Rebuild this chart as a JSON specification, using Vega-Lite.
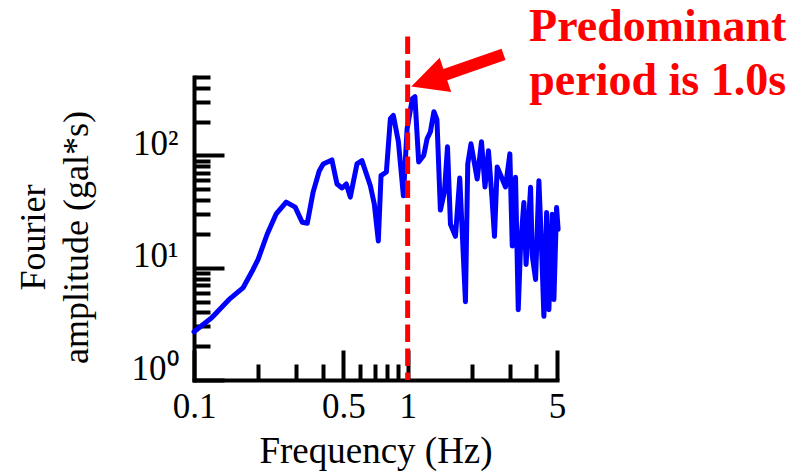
{
  "$schema": "https://vega.github.io/schema/vega-lite/v6.json",
  "width": 363,
  "height": 303,
  "autosize": "none",
  "padding": {"left": 194, "top": 77, "right": 248, "bottom": 94},
  "background": "white",
  "config": {
    "view": {"stroke": null},
    "font": "Liberation Serif",
    "axis": {
      "grid": false,
      "domainColor": "black",
      "domainWidth": 4,
      "domainCap": "square",
      "tickColor": "black",
      "tickWidth": 4,
      "labelColor": "black",
      "titleColor": "black",
      "titleFontWeight": "normal"
    }
  },
  "datasets": {
    "spectrum": [
      {"f": 0.1, "a": 2.69}, {"f": 0.121, "a": 3.59}, {"f": 0.1475, "a": 5.31}, {"f": 0.17, "a": 6.66},
      {"f": 0.189, "a": 9.65}, {"f": 0.1995, "a": 11.87}, {"f": 0.22, "a": 19.87}, {"f": 0.242, "a": 30.0},
      {"f": 0.27, "a": 38.4}, {"f": 0.2975, "a": 34.7}, {"f": 0.321, "a": 25.4}, {"f": 0.339, "a": 24.9},
      {"f": 0.361, "a": 47.2}, {"f": 0.3855, "a": 72.8}, {"f": 0.4025, "a": 84.1}, {"f": 0.442, "a": 91.3},
      {"f": 0.467, "a": 55.7}, {"f": 0.493, "a": 51.3}, {"f": 0.516, "a": 55.7}, {"f": 0.539, "a": 42.6},
      {"f": 0.579, "a": 84.1}, {"f": 0.611, "a": 90.0}, {"f": 0.669, "a": 53.8}, {"f": 0.698, "a": 36.9},
      {"f": 0.729, "a": 17.3}, {"f": 0.7505, "a": 66.1}, {"f": 0.795, "a": 71.3}, {"f": 0.83, "a": 212.7},
      {"f": 0.857, "a": 227.6}, {"f": 0.905, "a": 132.4}, {"f": 0.955, "a": 43.7}, {"f": 0.994, "a": 173.0},
      {"f": 1.052, "a": 321.1}, {"f": 1.081, "a": 334.6}, {"f": 1.126, "a": 87.6}, {"f": 1.189, "a": 99.8},
      {"f": 1.233, "a": 140.8}, {"f": 1.278, "a": 162.7}, {"f": 1.327, "a": 245.6}, {"f": 1.371, "a": 208.3},
      {"f": 1.423, "a": 32.6}, {"f": 1.486, "a": 47.2}, {"f": 1.536, "a": 119.4}, {"f": 1.586, "a": 24.4},
      {"f": 1.674, "a": 19.06}, {"f": 1.753, "a": 63.0}, {"f": 1.864, "a": 4.99}, {"f": 1.911, "a": 84.1},
      {"f": 1.979, "a": 127.0}, {"f": 2.116, "a": 61.7}, {"f": 2.216, "a": 132.4}, {"f": 2.301, "a": 52.4},
      {"f": 2.389, "a": 110.0}, {"f": 2.481, "a": 41.7}, {"f": 2.549, "a": 19.06}, {"f": 2.625, "a": 79.1},
      {"f": 2.771, "a": 61.7}, {"f": 2.871, "a": 52.4}, {"f": 3.008, "a": 103.3}, {"f": 3.087, "a": 15.61},
      {"f": 3.198, "a": 63.9}, {"f": 3.293, "a": 4.23}, {"f": 3.376, "a": 15.61}, {"f": 3.499, "a": 38.2},
      {"f": 3.583, "a": 10.7}, {"f": 3.761, "a": 52.0}, {"f": 3.831, "a": 12.7}, {"f": 3.97, "a": 7.86},
      {"f": 4.114, "a": 59.6}, {"f": 4.236, "a": 14.58}, {"f": 4.342, "a": 3.69}, {"f": 4.471, "a": 31.1},
      {"f": 4.581, "a": 4.23}, {"f": 4.753, "a": 30.0}, {"f": 4.836, "a": 5.2}, {"f": 4.978, "a": 34.4},
      {"f": 5.06, "a": 22.0}
    ],
    "marker": [{"f": 1, "a0": 1150, "a1": 1}],
    "arrow": [{"x1": 1.423, "y1": 505.6, "x2": 2.81, "y2": 795}],
    "head": [{"f": 1.25, "a": 463.6}],
    "note": [{"f": 14.8, "a": 1040, "label": "Predominant\nperiod is 1.0s"}]
  },
  "resolve": {"axis": {"x": "independent", "y": "independent"}},
  "layer": [
    {
      "data": {"name": "marker"},
      "mark": {"type": "rule", "color": "#FF0000", "strokeWidth": 5, "opacity": 0, "clip": false},
      "encoding": {
        "x": {
          "field": "f", "type": "quantitative",
          "scale": {"type": "log", "domain": [0.1, 5], "nice": false},
          "axis": {"orient": "bottom", "values": [0.2, 0.3, 0.4, 0.6, 0.7, 0.8, 0.9, 2, 3, 4], "tickSize": -16, "labels": false, "domain": false, "title": null}
        },
        "y": {
          "field": "a0", "type": "quantitative",
          "scale": {"type": "log", "domain": [1, 500], "nice": false},
          "axis": {"orient": "left", "values": [2, 3, 4, 5, 6, 7, 8, 9, 20, 30, 40, 50, 60, 70, 80, 90, 200, 300, 400, 500], "tickSize": -16, "labels": false, "domain": false, "title": null}
        },
        "y2": {"field": "a1"}
      }
    },
    {
      "data": {"name": "spectrum"},
      "mark": {"type": "line", "color": "#0000FF", "strokeWidth": 5, "strokeJoin": "round", "strokeCap": "round", "clip": false},
      "encoding": {
        "x": {
          "field": "f", "type": "quantitative",
          "scale": {"type": "log", "domain": [0.1, 5], "nice": false},
          "axis": {
            "orient": "bottom", "values": [0.1, 0.5, 1, 5],
            "labelExpr": "datum.value == 0.1 ? '0.1' : datum.value == 0.5 ? '0.5' : datum.value == 1 ? '1' : '5'",
            "tickSize": -30, "labelPadding": 39, "labelFlush": false,
            "labelFont": "Liberation Serif", "labelFontSize": 35,
            "title": "Frequency (Hz)", "titleFont": "Liberation Serif", "titleFontSize": 37,
            "titleY": 82, "titleBaseline": "alphabetic"
          }
        },
        "y": {
          "field": "a", "type": "quantitative",
          "scale": {"type": "log", "domain": [1, 500], "nice": false},
          "axis": {
            "orient": "left", "values": [1, 10, 100],
            "labelExpr": "datum.value == 1 ? '10⁰' : datum.value == 10 ? '10¹' : '10²'",
            "labelFont": "Liberation Serif", "labelFontSize": 35,
            "tickSize": -30, "labelPadding": 46, "labelOffset": -12, "labelFlush": false,
            "title": ["Fourier", "amplitude (gal*s)"],
            "titleFont": "Liberation Serif", "titleFontSize": 36,
            "titleX": -142, "titleY": 160, "titleAngle": 270, "titleBaseline": "bottom", "titleAlign": "center", "titleLineHeight": 43
          }
        }
      }
    },
    {
      "data": {"name": "marker"},
      "mark": {"type": "rule", "color": "#FF0000", "strokeWidth": 5, "strokeDash": [17.5, 6.5], "clip": false},
      "encoding": {
        "x": {"field": "f", "type": "quantitative", "scale": {"type": "log", "domain": [0.1, 5], "nice": false}, "axis": null},
        "y": {"field": "a0", "type": "quantitative", "scale": {"type": "log", "domain": [1, 500], "nice": false}, "axis": null},
        "y2": {"field": "a1"}
      }
    },
    {
      "data": {"name": "arrow"},
      "mark": {"type": "rule", "color": "#FF0000", "strokeWidth": 12, "strokeCap": "butt", "clip": false},
      "encoding": {
        "x": {"field": "x1", "type": "quantitative", "scale": {"type": "log", "domain": [0.1, 5], "nice": false}, "axis": null},
        "y": {"field": "y1", "type": "quantitative", "scale": {"type": "log", "domain": [1, 500], "nice": false}, "axis": null},
        "x2": {"field": "x2"},
        "y2": {"field": "y2"}
      }
    },
    {
      "data": {"name": "head"},
      "mark": {"type": "point", "shape": "M -1 0 L 1 -1 L 1 1 Z", "size": 1296, "angle": -18.7, "filled": true, "color": "#FF0000", "opacity": 1, "strokeWidth": 0, "clip": false},
      "encoding": {
        "x": {"field": "f", "type": "quantitative", "scale": {"type": "log", "domain": [0.1, 5], "nice": false}, "axis": null},
        "y": {"field": "a", "type": "quantitative", "scale": {"type": "log", "domain": [1, 500], "nice": false}, "axis": null}
      }
    },
    {
      "data": {"name": "note"},
      "mark": {"type": "text", "color": "#FF0000", "font": "Liberation Serif", "fontSize": 46, "fontWeight": "bold", "align": "center", "baseline": "alphabetic", "lineBreak": "\n", "lineHeight": 54, "clip": false},
      "encoding": {
        "x": {"field": "f", "type": "quantitative", "scale": {"type": "log", "domain": [0.1, 5], "nice": false}, "axis": null},
        "y": {"field": "a", "type": "quantitative", "scale": {"type": "log", "domain": [1, 500], "nice": false}, "axis": null},
        "text": {"field": "label"}
      }
    }
  ]
}
